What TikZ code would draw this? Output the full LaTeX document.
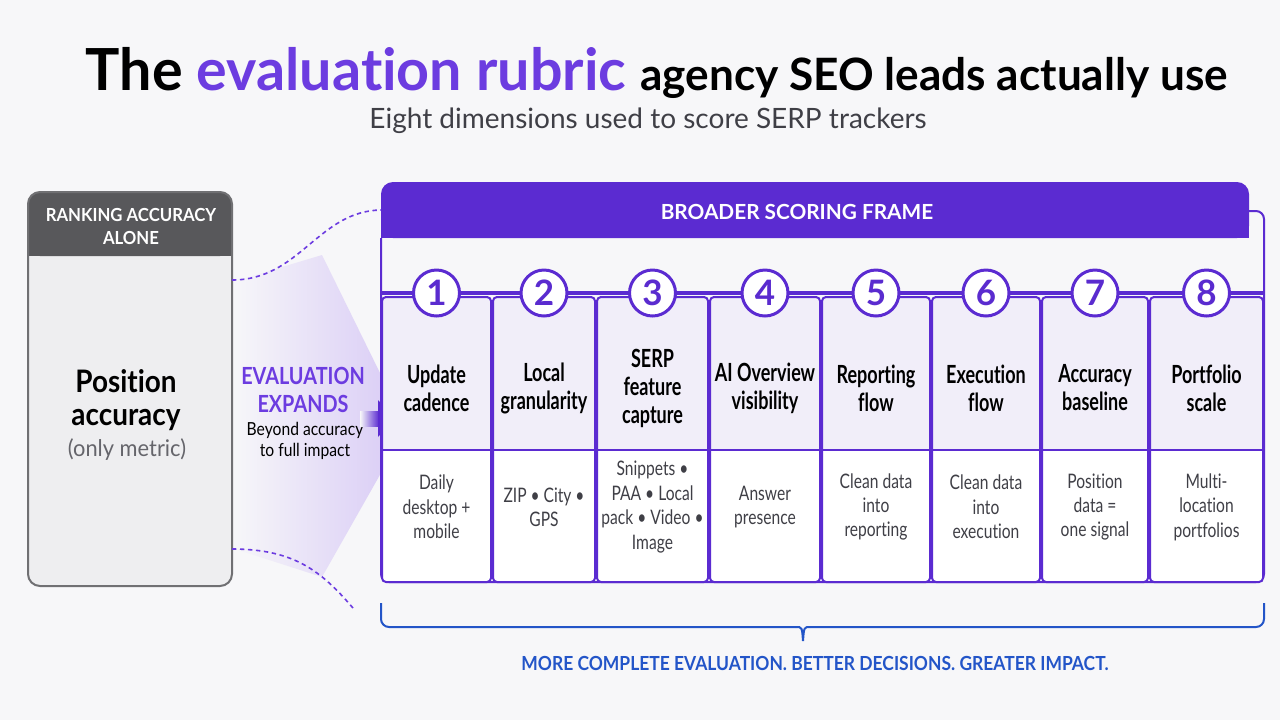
\documentclass[tikz,border=0pt]{standalone}
\usepackage{fontspec}
\setmainfont{Lato}[Ligatures=NoCommon]
\usetikzlibrary{positioning,calc,arrows.meta}
\definecolor{bgc}{HTML}{F7F7F9}
\definecolor{rubpurple}{HTML}{5B2BD1}
\definecolor{titlepurple}{HTML}{6C3CE0}
\definecolor{numpurple}{HTML}{5A2BCF}
\definecolor{headfill}{HTML}{F1EEF9}
\definecolor{boxgray}{HTML}{EEEEF0}
\definecolor{darkhead}{HTML}{58585B}
\definecolor{boxedge}{HTML}{707073}
\definecolor{bracec}{HTML}{2355C8}
\definecolor{subgray}{HTML}{3F3F46}
\definecolor{funnelc}{HTML}{DCD0F6}

\begin{document}
\begin{tikzpicture}[x=0.5pt,y=-0.5pt,
  colhead/.style={font=\bfseries\fontsize{12.5}{14}\selectfont, align=center, xscale=0.72},
  coldesc/.style={font=\fontsize{10}{12.2}\selectfont, align=center, xscale=0.78, text=subgray},
  numcirc/.style={circle, draw=rubpurple, line width=1.5pt, fill=white, minimum size=23pt, inner sep=0pt, font=\bfseries\fontsize{17.5}{17.5}\selectfont, text=numpurple},
  colline/.style={draw=rubpurple, line width=1pt},
  dotline/.style={titlepurple, line width=0.8pt, dash pattern=on 2.2pt off 1.8pt},
  bracel/.style={bracec, line width=1pt}]
	\useasboundingbox (0,0) rectangle (1280,720);
	\fill[bgc] (0,0) rectangle (1280,720);
	
	% Titel
	\node[anchor=base, xscale=0.99] (title) at (657,90) {\bfseries\fontsize{29}{32}\selectfont The \textcolor{titlepurple}{evaluation rubric} \fontsize{22.3}{26}\selectfont agency SEO leads actually use};
	\node[font=\fontsize{14}{16}\selectfont, text=subgray] (subtitle) at (648,121) {Eight dimensions used to score SERP trackers};
	
	% Trichter
	\shade[left color=bgc, right color=funnelc] (232,282) -- (322,255) -- (381,375) -- (381,473) -- (322,577) -- (232,548) -- cycle;
	
	% Linke Box
	\fill[boxgray, rounded corners=6pt] (28,192) rectangle (232,586);
	\fill[darkhead, rounded corners=6pt] (28,192) rectangle (232,256);
	\fill[darkhead] (28,230) rectangle (232,256);
	\draw[boxedge, line width=1pt, rounded corners=6pt] (28,192) rectangle (232,586);
	\node[font=\bfseries\fontsize{9}{11.5}\selectfont, text=white, align=center, xscale=0.93] (alone) at (131,226) {RANKING ACCURACY\\ALONE};
	\node[font=\bfseries\fontsize{15.5}{16.5}\selectfont, align=center, xscale=0.9] (pos) at (126,400) {Position\\accuracy};
	\node[font=\fontsize{11.5}{13}\selectfont, text=subgray!80!white, xscale=0.95] (only) at (127,450) {(only metric)};
	
	% Gestrichelte Kurven
	\coordinate (lbtop) at (232,280);
	\coordinate (lbbot) at (232,549);
	\coordinate (frtop) at (381,210);
	\coordinate (frbot) at (353,608);
	\draw[dotline] (lbtop) .. controls (300,280) and (318,211) .. (frtop);
	\draw[dotline] (lbbot) .. controls (295,549) and (322,572) .. (frbot);
	
	% Pfeil
	\node[font=\bfseries\fontsize{11.8}{14}\selectfont, text=titlepurple, align=center, xscale=0.84] (expands) at (303,390) {EVALUATION\\EXPANDS};
	\node[font=\fontsize{9}{10.5}\selectfont, align=center, xscale=0.87] (beyond) at (305,441) {Beyond accuracy\\to full impact};
	\shade[left color=bgc, right color=rubpurple] (360,411) rectangle (379,426);
	\fill[rubpurple] (378,400) -- (395,418) -- (378,437) -- cycle;
	
	% Rahmen
	\draw[colline, rounded corners=4pt] (1249,211) -| (1264,582) -| (381,238);
	\fill[rubpurple, rounded corners=6pt] (381,182) rectangle (1249,238);
	\fill[rubpurple] (381,220) rectangle (1249,238);
	\node[font=\bfseries\fontsize{10.4}{12}\selectfont, text=white] (band) at (797,212) {BROADER SCORING FRAME};
	\draw[rubpurple, line width=2pt] (381,293) -- (1264,293);
	
	% Spalten
	\foreach \i/\xl/\xr/\head/\desc in {
	  1/381/492/{Update\\cadence}/{Daily\\desktop +\\mobile},
	  2/492/596/{Local\\granularity}/{ZIP \textbullet\ City \textbullet\\GPS},
	  3/596/709/{SERP\\feature\\capture}/{Snippets \textbullet\\PAA \textbullet\ Local\\pack \textbullet\ Video \textbullet\\Image},
	  4/709/821/{AI Overview\\visibility}/{Answer\\presence},
	  5/821/931/{Reporting\\flow}/{Clean data\\into\\reporting},
	  6/931/1041/{Execution\\flow}/{Clean data\\into\\execution},
	  7/1041/1149/{Accuracy\\baseline}/{Position\\data =\\one signal},
	  8/1149/1264/{Portfolio\\scale}/{Multi-\\location\\portfolios}}
	{
	  \pgfmathsetmacro\xc{(\xl+\xr)/2}
	  \fill[white, rounded corners=2pt] (\xl+1,297) rectangle (\xr-1,582);
	  \fill[headfill, rounded corners=2pt] (\xl+1,297) rectangle (\xr-1,450);
	  \draw[colline, rounded corners=2pt] (\xl+1,297) rectangle (\xr-1,582);
	  \draw[colline] (\xl+1,450) -- (\xr-1,450);
	  \node[colhead] (head\i) at (\xc,388) {\head};
	  \node[coldesc] (desc\i) at (\xc,507) {\desc};
	  \node[numcirc] (num\i) at (\xc,293) {\i};
	}
	
	% Klammer
	\coordinate (brl) at (381,603);
	\coordinate (brr) at (1264,603);
	\coordinate (brtip) at (803,641);
	\draw[bracel, rounded corners=4pt] (brl) |- (796,627);
	\draw[bracel] (796,627) .. controls (802,627) .. (brtip) .. controls (804,627) .. (810,627);
	\draw[bracel, rounded corners=4pt] (810,627) -| (brr);
	\node[font=\bfseries\fontsize{9.7}{12}\selectfont, text=bracec, xscale=0.9] (impact) at (815,663) {MORE COMPLETE EVALUATION. BETTER DECISIONS. GREATER IMPACT.};
\end{tikzpicture}
\end{document}
